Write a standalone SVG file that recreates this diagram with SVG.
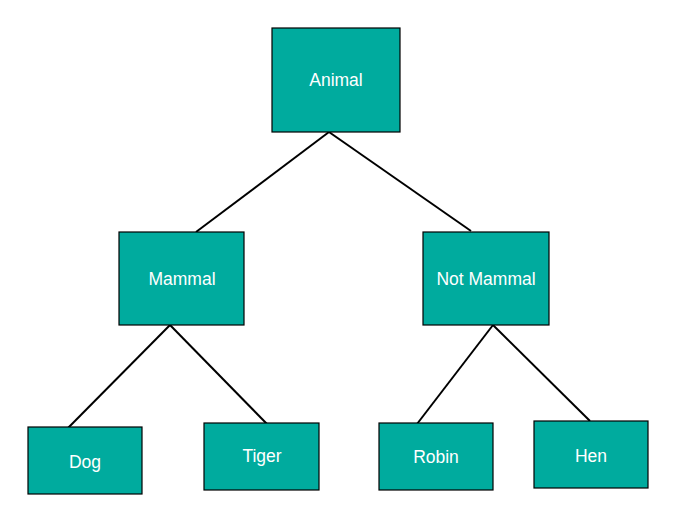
<svg xmlns="http://www.w3.org/2000/svg" width="689" height="511" viewBox="0 0 689 511">
<style>
.n{fill:#00ab9e;stroke:#000;stroke-width:1.2}
.t{fill:#fff;font-family:"Liberation Sans",Arial,sans-serif;font-size:17.5px;text-anchor:middle;dominant-baseline:central}
.e{stroke:#000;stroke-width:2;fill:none}
</style>
<rect width="689" height="511" fill="#fff"/>
<g id="connectors">
<line class="e" x1="329" y1="132" x2="196" y2="232"/>
<line class="e" x1="329" y1="132" x2="471" y2="231"/>
<line class="e" x1="170" y1="325" x2="68" y2="428"/>
<line class="e" x1="170" y1="325" x2="267" y2="424"/>
<line class="e" x1="493" y1="325" x2="417" y2="424"/>
<line class="e" x1="493" y1="325" x2="590" y2="421"/>
</g>
<g id="animal"><rect class="n" x="272" y="28" width="128" height="104"/><text class="t" x="336" y="80">Animal</text></g>
<g id="mammal"><rect class="n" x="119" y="232" width="125" height="93"/><text class="t" x="182" y="279">Mammal</text></g>
<g id="notmammal"><rect class="n" x="423" y="232" width="126" height="93"/><text class="t" x="486" y="279">Not Mammal</text></g>
<g id="dog"><rect class="n" x="28" y="427" width="114" height="67"/><text class="t" x="85" y="462">Dog</text></g>
<g id="tiger"><rect class="n" x="204" y="423" width="115" height="67"/><text class="t" x="262" y="456">Tiger</text></g>
<g id="robin"><rect class="n" x="379" y="423" width="114" height="67"/><text class="t" x="436" y="457">Robin</text></g>
<g id="hen"><rect class="n" x="534" y="421" width="114" height="67"/><text class="t" x="591" y="456">Hen</text></g>
</svg>
